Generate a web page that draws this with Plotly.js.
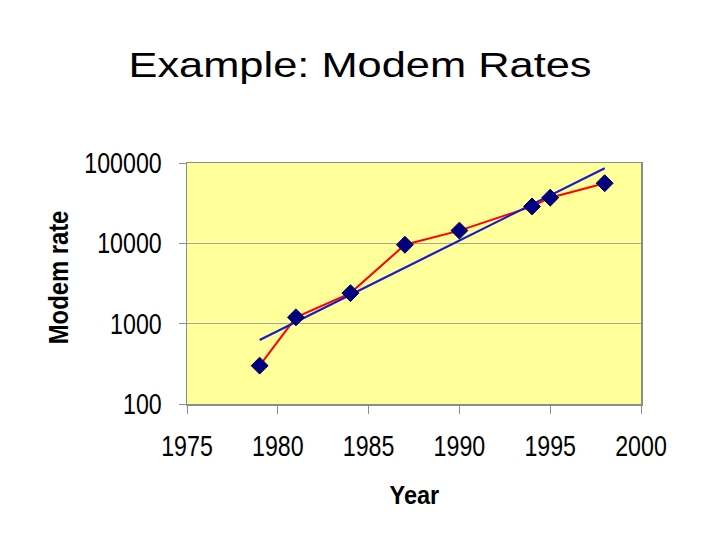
<!DOCTYPE html>
<html>
<head>
<meta charset="utf-8">
<script src="https://cdn.plot.ly/plotly-3.0.1.min.js"></script>
<style>
html,body{margin:0;padding:0;background:#fff;}
#chart{width:720px;height:540px;}
</style>
</head>
<body>
<div id="chart"></div>
<script>
// Data
const years = [1979, 1981, 1984, 1987, 1990, 1994, 1995, 1998];
const modemRate = [300, 1200, 2400, 9600, 14400, 28800, 37000, 56000];
// Exponential trend line (straight on log axis), endpoints
const trendYears = [1979, 1998];
const trendRate = [627, 86000];
const xTicks = [1975, 1980, 1985, 1990, 1995, 2000];
const yTicks = [100, 1000, 10000, 100000];

const font = "Liberation Sans, Arial, sans-serif";

const traces = [
  {x: years, y: modemRate, mode: 'lines', line: {color: '#ff0000', width: 2}, hoverinfo: 'skip', showlegend: false},
  {x: trendYears, y: trendRate, mode: 'lines', line: {color: '#1a1acc', width: 2.2}, hoverinfo: 'skip', showlegend: false},
  {x: years, y: modemRate, mode: 'markers', marker: {symbol: 'diamond', size: 13, color: '#000080', line: {color: '#00004a', width: 1}}, showlegend: false}
];

const layout = {
  width: 720, height: 540,
  paper_bgcolor: '#ffffff',
  plot_bgcolor: '#ffff99',
  margin: {l: 187, r: 79, t: 163, b: 136},
  title: {text: 'Example: Modem Rates', font: {family: font, size: 35, color: '#000'}, x: 0.5, xanchor: 'center', y: 1 - 65/540, yanchor: 'middle', yref: 'container'},
  xaxis: {
    range: [1975, 2000], tickvals: xTicks, ticktext: xTicks.map(String),
    showgrid: false, zeroline: false,
    showline: true, mirror: true, linecolor: '#8c8c8c', linewidth: 1.5,
    ticks: 'outside', ticklen: 8, tickcolor: '#8c8c8c', tickwidth: 1,
    ticklabelstandoff: 8,
    tickfont: {family: font, size: 29, color: '#000'},
    automargin: false
  },
  yaxis: {
    type: 'log', range: [2, 5], tickvals: yTicks, ticktext: yTicks.map(String),
    showgrid: true, gridcolor: '#a6a6a6', gridwidth: 1.2, zeroline: false,
    showline: true, mirror: true, linecolor: '#8c8c8c', linewidth: 1.5,
    ticks: 'outside', ticklen: 7, tickcolor: '#8c8c8c', tickwidth: 1,
    ticklabelstandoff: 11,
    tickfont: {family: font, size: 29, color: '#000'},
    automargin: false
  },
  annotations: [
    {text: '<b>Year</b>', xref: 'paper', yref: 'paper', x: (414 - 187) / 454, y: (404 - 495) / 241,
     xanchor: 'center', yanchor: 'middle', showarrow: false, font: {family: font, size: 25, color: '#000'}},
    {text: '<b>Modem rate</b>', xref: 'paper', yref: 'paper', x: (58 - 187) / 454, y: (404 - 278) / 241,
     xanchor: 'center', yanchor: 'middle', textangle: -90, showarrow: false, font: {family: font, size: 28, color: '#000'}}
  ]
};

function fit(sel, f) {
  document.querySelectorAll(sel).forEach(function (t) {
    const L = t.getComputedTextLength();
    t.setAttribute('textLength', (L * f).toFixed(1));
    t.setAttribute('lengthAdjust', 'spacingAndGlyphs');
  });
}

Plotly.newPlot('chart', traces, layout, {displayModeBar: false, staticPlot: true}).then(function () {
  fit('.xtick text', 0.8);
  fit('.ytick text', 0.8);
  fit('.gtitle', 1.24);
  const ann = document.querySelectorAll('.annotation-text');
  if (ann[0]) { const L = ann[0].getComputedTextLength(); ann[0].setAttribute('textLength', (L * 0.94).toFixed(1)); ann[0].setAttribute('lengthAdjust', 'spacingAndGlyphs'); }
  if (ann[1]) { const L = ann[1].getComputedTextLength(); ann[1].setAttribute('textLength', (L * 0.85).toFixed(1)); ann[1].setAttribute('lengthAdjust', 'spacingAndGlyphs'); }
});
</script>
</body>
</html>
